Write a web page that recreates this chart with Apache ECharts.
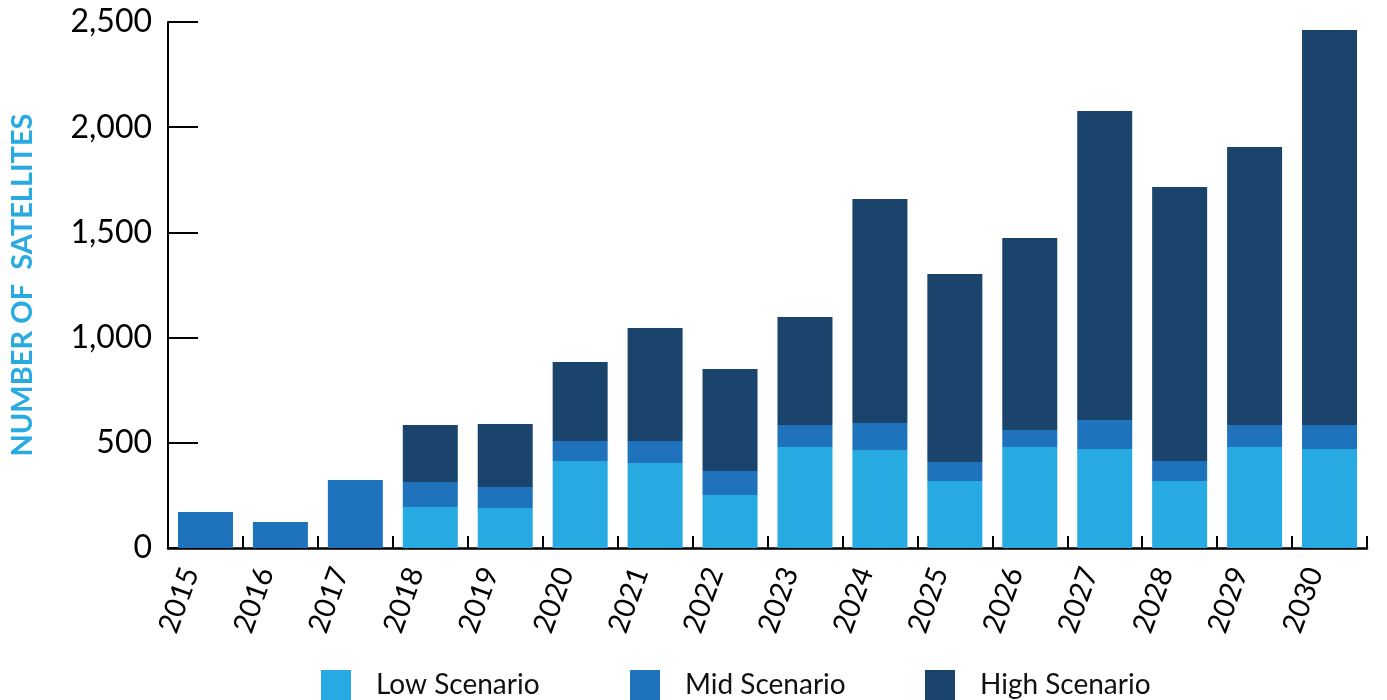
<!DOCTYPE html>
<html>
<head>
<meta charset="utf-8">
<title>Number of Satellites by Scenario</title>
<script src="https://cdn.jsdelivr.net/npm/echarts@6/dist/echarts.min.js"></script>
<style>
  html, body { margin: 0; padding: 0; background: #ffffff; }
  #chart { width: 1387px; height: 700px; }
</style>
</head>
<body>
<div id="chart"></div>
<script>
// Years on the category axis
const years = ['2015', '2016', '2017', '2018', '2019', '2020', '2021', '2022',
               '2023', '2024', '2025', '2026', '2027', '2028', '2029', '2030'];

// Stacked segments (number of satellites per year)
const lowScenario  = [0, 0, 0, 195, 190, 414, 404, 252, 480, 466, 318, 480, 470, 318, 480, 470];
const midScenario  = [171, 124, 323, 119, 100, 95, 105, 114, 105, 128, 91, 81, 138, 95, 105, 115];
const highScenario = [0, 0, 0, 271, 299, 375, 537, 485, 513, 1065, 893, 912, 1469, 1303, 1321, 1877];

// Value axis ticks
const yTicks = [0, 500, 1000, 1500, 2000, 2500];

const seriesNames = ['Low Scenario', 'Mid Scenario', 'High Scenario'];
const seriesColors = ['#27a9e1', '#1e73bc', '#1a446c'];
const seriesData = [lowScenario, midScenario, highScenario];

// Left offset of each legend entry along the bottom row
const legendLeft = [321, 630, 925];

const FONT = 'Lato, "Open Sans", sans-serif';

const chart = echarts.init(document.getElementById('chart'), null, { renderer: 'canvas' });

chart.setOption({
  animation: false,
  backgroundColor: '#ffffff',
  grid: { left: 165, right: 20, top: 22, bottom: 152, containLabel: false },
  legend: seriesNames.map((name, i) => ({
    data: [name],
    left: legendLeft[i],
    top: 670,
    padding: 0,
    itemWidth: 30,
    itemHeight: 30,
    icon: 'rect',
    selectedMode: false,
    textStyle: { fontFamily: FONT, fontSize: 28, color: '#111111', padding: [6, 0, 0, 20] }
  })),
  xAxis: {
    type: 'category',
    data: years,
    boundaryGap: true,
    axisLine: { show: true, lineStyle: { color: '#000000', width: 2.5 } },
    axisTick: { show: true, inside: true, length: 12, lineStyle: { color: '#000000', width: 2 } },
    axisLabel: {
      rotate: 70,
      margin: 26,
      verticalAlign: 'bottom',
      lineHeight: 32,
      fontFamily: FONT,
      fontSize: 29,
      color: '#000000'
    },
    splitLine: { show: false }
  },
  yAxis: {
    type: 'value',
    min: yTicks[0],
    max: yTicks[yTicks.length - 1],
    interval: yTicks[1] - yTicks[0],
    name: 'NUMBER OF  SATELLITES',
    nameLocation: 'middle',
    nameGap: 131,
    nameTextStyle: {
      fontFamily: FONT,
      fontWeight: 'bold',
      fontSize: 29,
      color: '#29abe2'
    },
    axisLine: { show: true, lineStyle: { color: '#000000', width: 2 } },
    axisTick: { show: true, inside: true, length: 30, lineStyle: { color: '#000000', width: 2 } },
    axisLabel: {
      margin: 16,
      fontFamily: FONT,
      fontSize: 32,
      color: '#000000',
      formatter: v => v.toLocaleString('en-US')
    },
    splitLine: { show: false }
  },
  series: seriesNames.map((name, i) => ({
    name: name,
    type: 'bar',
    stack: 'total',
    barWidth: 55,
    data: seriesData[i],
    itemStyle: { color: seriesColors[i] },
    emphasis: { disabled: true }
  }))
});
</script>
</body>
</html>
